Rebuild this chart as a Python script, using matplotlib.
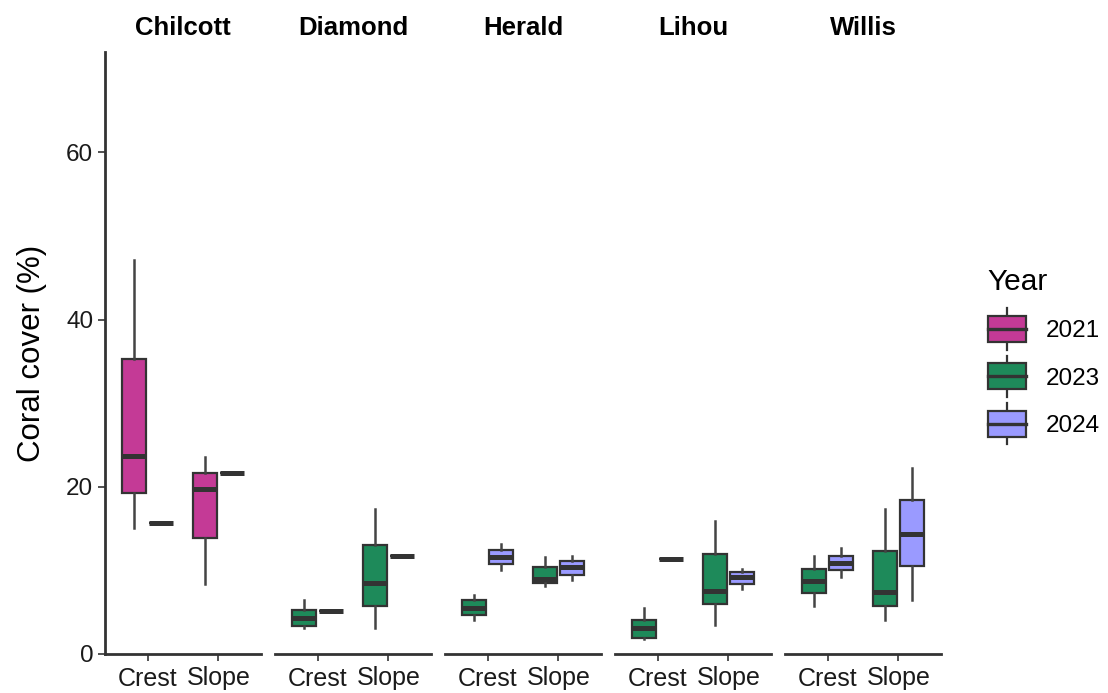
import matplotlib
matplotlib.use("Agg")
import matplotlib.pyplot as plt
from matplotlib.patches import Rectangle
from matplotlib.lines import Line2D
from matplotlib.legend_handler import HandlerBase

plt.rcParams['font.family'] = ['Liberation Sans', 'DejaVu Sans']

# Sites (facets), reef zones and survey years
sites = ["Chilcott", "Diamond", "Herald", "Lihou", "Willis"]
zones = ["Crest", "Slope"]
years = ["2021", "2023", "2024"]
year_colors = {"2021": "#C43A96", "2023": "#1E8A5A", "2024": "#9A9AFF"}

# Box summaries per site/zone/year: (whisker low, q1, median, q3, whisker high)
# Single-survey groups have all five values equal.
coral = {
    "Chilcott": {
        "Crest": {"2021": (15.1, 19.3, 23.7, 35.3, 47.1), "2024": (15.7, 15.7, 15.7, 15.7, 15.7)},
        "Slope": {"2021": (8.4, 13.9, 19.7, 21.6, 23.6), "2024": (21.7, 21.7, 21.7, 21.7, 21.7)},
    },
    "Diamond": {
        "Crest": {"2023": (3.1, 3.4, 4.3, 5.3, 6.4), "2024": (5.2, 5.2, 5.2, 5.2, 5.2)},
        "Slope": {"2023": (3.1, 5.7, 8.5, 13.0, 17.3), "2024": (11.7, 11.7, 11.7, 11.7, 11.7)},
    },
    "Herald": {
        "Crest": {"2023": (4.1, 4.7, 5.5, 6.4, 7.0), "2024": (10.0, 10.8, 11.6, 12.4, 13.1)},
        "Slope": {"2023": (8.1, 8.5, 9.0, 10.4, 11.6), "2024": (8.8, 9.5, 10.4, 11.1, 11.7)},
    },
    "Lihou": {
        "Crest": {"2023": (1.8, 1.9, 3.1, 4.1, 5.5), "2024": (11.4, 11.4, 11.4, 11.4, 11.4)},
        "Slope": {"2023": (3.5, 6.0, 7.5, 12.0, 15.9), "2024": (7.8, 8.4, 9.2, 9.8, 10.2)},
    },
    "Willis": {
        "Crest": {"2023": (5.7, 7.3, 8.7, 10.2, 11.7), "2024": (9.2, 10.0, 10.9, 11.7, 12.7)},
        "Slope": {"2023": (4.1, 5.7, 7.4, 12.3, 17.3), "2024": (6.5, 10.5, 14.4, 18.4, 22.3)},
    },
}

y_ticks = [0, 20, 40, 60]
edge = "#333333"
W, H = 1108, 693

fig = plt.figure(figsize=(W / 100, H / 100), dpi=100)

panel_left, panel_w, panel_gap = 105, 156, 14
panel_top, panel_bottom = 52, 654

dodge = 0.75
for k, site in enumerate(sites):
    x0 = panel_left + k * (panel_w + panel_gap)
    ax = fig.add_axes([x0 / W, (H - panel_bottom) / H, panel_w / W, (panel_bottom - panel_top) / H])
    for i, zone in enumerate(zones):
        groups = coral[site][zone]
        n = len(groups)
        slot = dodge / n
        for j, yr in enumerate([y for y in years if y in groups]):
            lo, q1, med, q3, hi = groups[yr]
            pos = (i + 1) - dodge / 2 + (j + 0.5) * slot
            stats = [dict(whislo=lo, q1=q1, med=med, q3=q3, whishi=hi, fliers=[])]
            ax.bxp(stats, positions=[pos], widths=slot * 0.9, patch_artist=True,
                   showcaps=False, manage_ticks=False,
                   boxprops=dict(facecolor=year_colors[yr], edgecolor=edge, linewidth=1.6),
                   medianprops=dict(color=edge, linewidth=3.6, solid_capstyle="butt"),
                   whiskerprops=dict(color="#444444", linewidth=1.8))
    ax.set_xlim(0.4, 2.6)
    ax.set_ylim(0, 72)
    ax.set_xticks([1, 2])
    ax.set_xticklabels(zones, fontsize=18)
    ax.tick_params(axis="x", length=5, width=1.2, color=edge, pad=4, labelcolor="#1a1a1a")
    for s in ["top", "right"]:
        ax.spines[s].set_visible(False)
    ax.spines["bottom"].set_color(edge)
    ax.spines["bottom"].set_linewidth(2)
    if k == 0:
        ax.set_yticks(y_ticks)
        ax.tick_params(axis="y", length=5, width=1.2, color=edge, labelsize=17.5, labelcolor="#1a1a1a")
        ax.spines["left"].set_color(edge)
        ax.spines["left"].set_linewidth(2)
        ax.set_ylabel("Coral cover (%)", fontsize=22.5, labelpad=14)
    else:
        ax.spines["left"].set_visible(False)
        ax.set_yticks([])
    ax.set_facecolor("none")
    fig.text((x0 + panel_w / 2) / W, (H - 28) / H, site, ha="center", va="center",
             fontsize=18.5, fontweight="bold")


class BoxKey(HandlerBase):
    # Legend key drawn as a small boxplot glyph
    def create_artists(self, legend, orig_handle, xdescent, ydescent, width, height, fontsize, trans):
        fc = orig_handle.get_facecolor()
        cx = width / 2 - xdescent
        box = Rectangle((-xdescent, -ydescent - 0.1 * height), width, height * 1.2,
                        facecolor=fc, edgecolor=edge, linewidth=1.6, transform=trans)
        med = Line2D([-xdescent, width - xdescent], [height / 2 - ydescent] * 2,
                     color=edge, linewidth=2.4, transform=trans)
        w_up = Line2D([cx, cx], [height * 1.1 - ydescent, height * 1.45 - ydescent],
                      color=edge, linewidth=1.6, transform=trans)
        w_dn = Line2D([cx, cx], [-0.1 * height - ydescent, -0.45 * height - ydescent],
                      color=edge, linewidth=1.6, transform=trans)
        return [w_up, w_dn, box, med]


handles = [Rectangle((0, 0), 1, 1, facecolor=year_colors[y]) for y in years]
leg = fig.legend(handles, years, title="Year", loc="upper left",
                 bbox_to_anchor=(966 / W, (H - 246) / H), frameon=False,
                 fontsize=17.5, title_fontsize=21.5, handler_map={Rectangle: BoxKey()},
                 handlelength=1.55, handleheight=1.0, labelspacing=0.95, handletextpad=0.85)
leg._legend_box.align = "left"
leg._legend_box.sep = 16

fig.savefig("out.png", dpi=100)
